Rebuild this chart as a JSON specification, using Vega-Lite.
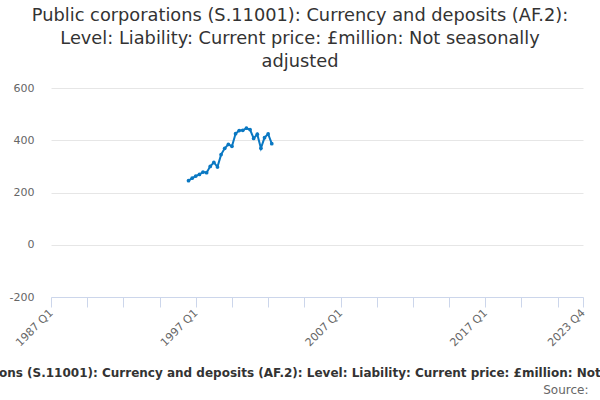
{
  "$schema": "https://vega.github.io/schema/vega-lite/v6.json",
  "autosize": {"type": "none"},
  "padding": {"left": 51, "top": 88, "right": 17, "bottom": 103},
  "width": 532,
  "height": 209,
  "background": "white",
  "config": {
    "view": {"stroke": null},
    "font": "DejaVu Sans"
  },
  "title": {
    "text": [
      "Public corporations (S.11001): Currency and deposits (AF.2):",
      "Level: Liability: Current price: £million: Not seasonally",
      "adjusted"
    ],
    "fontSize": 17.8,
    "fontWeight": "normal",
    "color": "#333333",
    "anchor": "middle",
    "dx": -17,
    "lineHeight": 23,
    "offset": 11
  },
  "data": {
    "values": [
      {"quarter": "1996 Q3", "t": 1996.5, "value": 245},
      {"quarter": "1996 Q4", "t": 1996.75, "value": 255},
      {"quarter": "1997 Q1", "t": 1997, "value": 263},
      {"quarter": "1997 Q2", "t": 1997.25, "value": 269},
      {"quarter": "1997 Q3", "t": 1997.5, "value": 278},
      {"quarter": "1997 Q4", "t": 1997.75, "value": 276},
      {"quarter": "1998 Q1", "t": 1998, "value": 300},
      {"quarter": "1998 Q2", "t": 1998.25, "value": 315},
      {"quarter": "1998 Q3", "t": 1998.5, "value": 298},
      {"quarter": "1998 Q4", "t": 1998.75, "value": 345},
      {"quarter": "1999 Q1", "t": 1999, "value": 369},
      {"quarter": "1999 Q2", "t": 1999.25, "value": 384},
      {"quarter": "1999 Q3", "t": 1999.5, "value": 377},
      {"quarter": "1999 Q4", "t": 1999.75, "value": 425},
      {"quarter": "2000 Q1", "t": 2000, "value": 437},
      {"quarter": "2000 Q2", "t": 2000.25, "value": 438},
      {"quarter": "2000 Q3", "t": 2000.5, "value": 446},
      {"quarter": "2000 Q4", "t": 2000.75, "value": 441},
      {"quarter": "2001 Q1", "t": 2001, "value": 407},
      {"quarter": "2001 Q2", "t": 2001.25, "value": 423},
      {"quarter": "2001 Q3", "t": 2001.5, "value": 369},
      {"quarter": "2001 Q4", "t": 2001.75, "value": 410},
      {"quarter": "2002 Q1", "t": 2002, "value": 424},
      {"quarter": "2002 Q2", "t": 2002.25, "value": 387}
    ]
  },
  "encoding": {
    "x": {
      "field": "t",
      "type": "quantitative",
      "scale": {"domain": [1987, 2023.75], "nice": false, "zero": false},
      "axis": {
        "values": [1987, 1989.5, 1992, 1994.5, 1997, 1999.5, 2002, 2004.5, 2007, 2009.5, 2012, 2014.5, 2017, 2019.5, 2022, 2023.75],
        "labelExpr": "datum.value == 2023.75 ? '2023 Q4' : (datum.value % 10 == 7 ? datum.value + ' Q1' : '')",
        "labelAngle": -45,
        "labelAlign": "right",
        "labelBaseline": "middle",
        "labelFontSize": 11,
        "labelColor": "#666666",
        "labelPadding": 4,
        "labelOverlap": false,
        "labelBound": false,
        "labelFlush": false,
        "grid": false,
        "domainColor": "#ccd6eb",
        "tickColor": "#ccd6eb",
        "tickSize": 10,
        "title": "Public corporations (S.11001): Currency and deposits (AF.2): Level: Liability: Current price: £million: Not seasonally adjusted",
        "titleFontSize": 12,
        "titleFontWeight": "bold",
        "titleColor": "#333333",
        "titleX": 264,
        "titleY": 79,
        "titleAlign": "center",
        "titleBaseline": "alphabetic"
      }
    },
    "y": {
      "field": "value",
      "type": "quantitative",
      "scale": {"domain": [-200, 600], "nice": false},
      "axis": {
        "values": [-200, 0, 200, 400, 600],
        "labelExpr": "'' + datum.value",
        "domain": false,
        "ticks": false,
        "grid": true,
        "gridColor": "#e6e6e6",
        "labelFontSize": 11,
        "labelColor": "#666666",
        "labelPadding": 17,
        "title": "Source:",
        "titleFontSize": 12,
        "titleFontWeight": "normal",
        "titleColor": "#666666",
        "titleAngle": 0,
        "titleX": 537,
        "titleY": 305,
        "titleAlign": "right",
        "titleBaseline": "alphabetic"
      }
    }
  },
  "layer": [
    {
      "mark": {"type": "line", "color": "#0a78c2", "strokeWidth": 2}
    },
    {
      "mark": {"type": "point", "shape": "circle", "filled": true, "color": "#0a78c2", "size": 14, "opacity": 1}
    }
  ]
}
